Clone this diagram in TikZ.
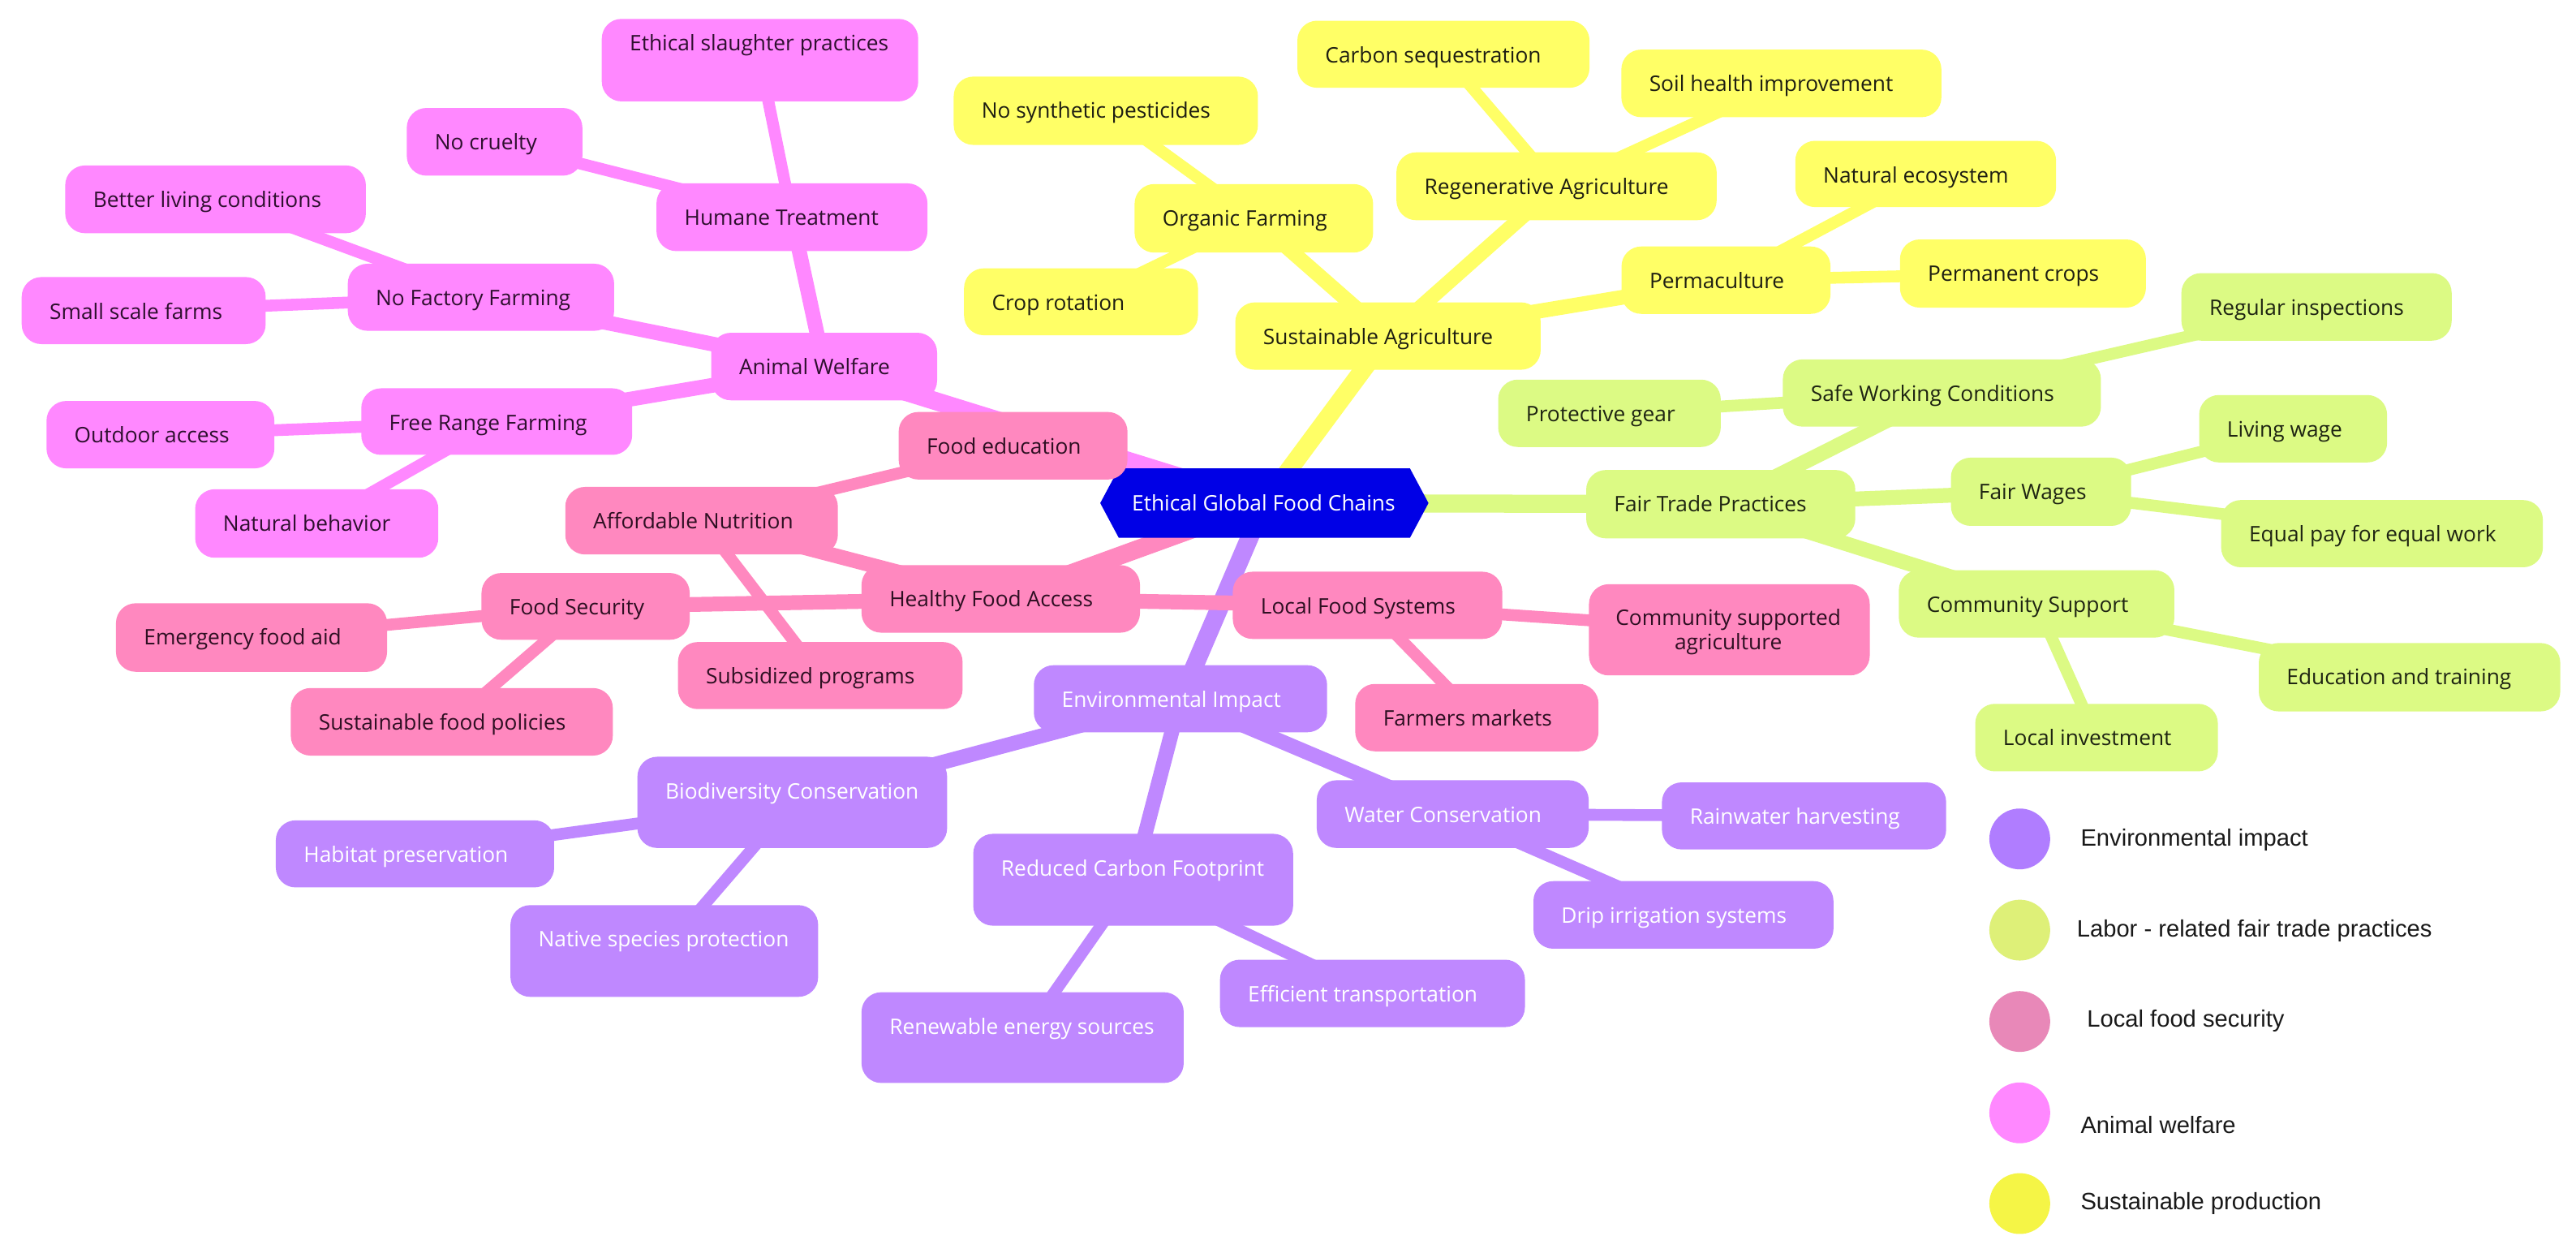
\documentclass[tikz,border=0pt]{standalone}
\usepackage{fontspec}
\setmainfont{Open Sans}
\newfontfamily\legendfamily{Liberation Sans}
\usetikzlibrary{calc}
\pgfdeclarelayer{paper}
\pgfdeclarelayer{bg}
\pgfsetlayers{paper,bg,main}
% section colours: c = fill / connector, t = text
\definecolor{magc}{HTML}{FF88FF}\definecolor{magt}{HTML}{2E0F2E}
\definecolor{pnkc}{HTML}{FF88BF}\definecolor{pnkt}{HTML}{2E0F22}
\definecolor{yelc}{HTML}{FFFF66}\definecolor{yelt}{HTML}{1E1E12}
\definecolor{limc}{HTML}{DCFA84}\definecolor{limt}{HTML}{1E2412}
\definecolor{purc}{HTML}{BF88FF}\definecolor{purt}{HTML}{FFFFFF}
\definecolor{rootc}{HTML}{0000E6}
\definecolor{lgpur}{HTML}{B07DFF}
\definecolor{lglim}{HTML}{DEF078}
\definecolor{lgpnk}{HTML}{E888B8}
\definecolor{lgmag}{HTML}{FF88FF}
\definecolor{lgyel}{HTML}{F5F546}
\newcommand{\mmfont}{\fontsize{13}{14.7}\selectfont}
\newcommand{\lgfont}{\legendfamily\fontsize{14.4}{17}\selectfont}
\tikzset{
  boxst/.style={rectangle, rounded corners=12pt, inner sep=0pt, outer sep=0pt, draw=none},
  txtst/.style={inner sep=0pt, outer sep=0pt, font=\mmfont},
  eone/.style={line width=11pt},
  etwo/.style={line width=9pt},
  ethree/.style={line width=7.2pt},
  lgdot/.style={circle, minimum size=37pt, inner sep=0pt, draw=none},
  lgtxt/.style={inner sep=0pt, font=\lgfont, text=black!90, anchor=base west}
}
% #1 baseline offset, #2 name, #3 section, #4 x1, #5 y1, #6 x2, #7 y2, #8 text
\newcommand{\mmnode}[8][25.5]{%
  \node[boxst, fill=#3c, minimum width=#6pt-#4pt, minimum height=#7pt-#5pt, anchor=north west] (#2) at (#4,#5) {};
  \node[txtst, text=#3t, anchor=base west] (#2-t) at ([xshift=17pt, yshift=-#1pt]#2.north west) {#8};
}
\newcommand{\mmedge}[4]{\draw[#1, #2c] (#3.center) -- (#4.center);}
\begin{document}
\begin{tikzpicture}[x=1pt, y=-1pt]
\useasboundingbox (0,0) rectangle (1568,760);
\begin{pgfonlayer}{paper}
\fill[white] (0,0) rectangle (1568,760);
\end{pgfonlayer}

% ---------- root ----------
\node[inner sep=0pt, outer sep=0pt, minimum width=199.8pt, minimum height=42.3pt, anchor=north west] (root) at (669.7,285) {};
\fill[rootc] (root.west) -- ([xshift=11.3pt]root.north west) -- ([xshift=-11.3pt]root.north east)
   -- (root.east) -- ([xshift=-11.3pt]root.south east) -- ([xshift=11.3pt]root.south west) -- cycle;
\node[txtst, text=white, anchor=base west] (root-t) at (689,310.7) {Ethical Global Food Chains};

% ---------- animal welfare ----------
\mmnode{aw}{mag}{432.9}{202.5}{570.4}{243.6}{Animal Welfare}
\mmnode{ht}{mag}{399.6}{111.6}{564.5}{152.8}{Humane Treatment}
\mmnode[19.4]{esp}{mag}{366.3}{11.5}{558.9}{61.7}{Ethical slaughter practices}
\mmnode{nc}{mag}{247.6}{65.7}{354.5}{106.9}{No cruelty}
\mmnode{nff}{mag}{211.7}{160.5}{373.8}{201.3}{No Factory Farming}
\mmnode{blc}{mag}{39.7}{100.7}{222.7}{141.9}{Better living conditions}
\mmnode{ssf}{mag}{13.2}{168.6}{161.7}{209.4}{Small scale farms}
\mmnode{frf}{mag}{219.9}{236.3}{384.8}{276.8}{Free Range Farming}
\mmnode{oa}{mag}{28.3}{244}{167}{285}{Outdoor access}
\mmnode{nb}{mag}{118.8}{297.7}{266.8}{339.4}{Natural behavior}

% ---------- healthy food access ----------
\mmnode{hfa}{pnk}{524.4}{343.9}{693.9}{385}{Healthy Food Access}
\mmnode{an}{pnk}{344.1}{296.3}{510}{337.4}{Affordable Nutrition}
\mmnode{fe}{pnk}{547}{250.7}{686.3}{291.8}{Food education}
\mmnode{sp}{pnk}{412.7}{390.7}{585.9}{431.5}{Subsidized programs}
\mmnode{fs}{pnk}{293.1}{348.7}{419.8}{389.3}{Food Security}
\mmnode{efa}{pnk}{70.6}{367.1}{235.6}{408.8}{Emergency food aid}
\mmnode{sfp}{pnk}{177}{418.7}{373}{459.8}{Sustainable food policies}
\mmnode{lfs}{pnk}{750.4}{347.9}{914.4}{388.8}{Local Food Systems}
\node[boxst, fill=pnkc, minimum width=170.9pt, minimum height=55.5pt, anchor=north west] (csa) at (967.2,355.5) {};
\node[txtst, text=pnkt, align=center, anchor=center] (csa-t) at (1052,384.5) {Community supported\\agriculture};
\mmnode{fm}{pnk}{824.9}{416.2}{973}{457.2}{Farmers markets}

% ---------- sustainable agriculture ----------
\mmnode{sa}{yel}{751.9}{184}{937.8}{225}{Sustainable Agriculture}
\mmnode{of}{yel}{690.6}{112}{835.8}{153.7}{Organic Farming}
\mmnode{nsp}{yel}{580.5}{46.6}{765.7}{88.2}{No synthetic pesticides}
\mmnode{cr}{yel}{586.8}{163.3}{729.2}{204}{Crop rotation}
\mmnode{ra}{yel}{850}{92.7}{1044.9}{134}{Regenerative Agriculture}
\mmnode{cs}{yel}{789.7}{12.6}{967.5}{53.4}{Carbon sequestration}
\mmnode{shi}{yel}{986.9}{30.2}{1181.7}{71.3}{Soil health improvement}
\mmnode{pc}{yel}{987}{150}{1114.2}{191}{Permaculture}
\mmnode{ne}{yel}{1092.8}{85.7}{1251.5}{126}{Natural ecosystem}
\mmnode{pcr}{yel}{1156.5}{145.7}{1306.2}{187.2}{Permanent crops}

% ---------- fair trade ----------
\mmnode{ftp}{lim}{965.5}{286}{1129.3}{327.6}{Fair Trade Practices}
\mmnode{swc}{lim}{1085.2}{218.7}{1278.8}{259.6}{Safe Working Conditions}
\mmnode{ri}{lim}{1327.8}{166.2}{1492.3}{207.3}{Regular inspections}
\mmnode{pg}{lim}{911.9}{231}{1047.4}{272}{Protective gear}
\mmnode{fw}{lim}{1187.5}{278.5}{1297.2}{320}{Fair Wages}
\mmnode{lw}{lim}{1338.6}{240.4}{1453}{281.4}{Living wage}
\mmnode{ep}{lim}{1352}{304.3}{1547.8}{345.2}{Equal pay for equal work}
\mmnode{cms}{lim}{1155.8}{347}{1323.5}{388}{Community Support}
\mmnode{et}{lim}{1374.9}{391.3}{1558.4}{432.9}{Education and training}
\mmnode{li}{lim}{1202.3}{428.3}{1350}{469.4}{Local investment}

% ---------- environmental impact ----------
\mmnode{ei}{pur}{629.3}{404.8}{807.8}{445.6}{Environmental Impact}
\mmnode{bc}{pur}{388}{460.5}{576.5}{516}{Biodiversity Conservation}
\mmnode{hp}{pur}{167.9}{499.2}{337.3}{540}{Habitat preservation}
\mmnode{nsr}{pur}{310.7}{550.8}{498}{606.6}{Native species protection}
\mmnode{rcf}{pur}{592.4}{507.4}{787.1}{563.3}{Reduced Carbon Footprint}
\mmnode{res}{pur}{524.4}{603.8}{720.5}{659}{Renewable energy sources}
\mmnode{eft}{pur}{742.6}{584}{928.2}{625}{Efficient transportation}
\mmnode{wc}{pur}{801.5}{474.8}{967}{516}{Water Conservation}
\mmnode{rh}{pur}{1011.6}{476.1}{1184.6}{516.9}{Rainwater harvesting}
\mmnode{dis}{pur}{933.4}{536.2}{1116}{577.3}{Drip irrigation systems}

% ---------- connectors ----------
\begin{pgfonlayer}{bg}
\mmedge{eone}{yel}{root}{sa}
\mmedge{eone}{lim}{root}{ftp}
\mmedge{eone}{pnk}{root}{hfa}
\mmedge{eone}{pur}{root}{ei}
\mmedge{eone}{mag}{root}{aw}
\mmedge{etwo}{yel}{sa}{of}
\mmedge{etwo}{yel}{sa}{ra}
\mmedge{etwo}{yel}{sa}{pc}
\mmedge{etwo}{lim}{ftp}{swc}
\mmedge{etwo}{lim}{ftp}{fw}
\mmedge{etwo}{lim}{ftp}{cms}
\mmedge{etwo}{pnk}{hfa}{an}
\mmedge{etwo}{pnk}{hfa}{fs}
\mmedge{etwo}{pnk}{hfa}{lfs}
\mmedge{etwo}{pur}{ei}{bc}
\mmedge{etwo}{pur}{ei}{rcf}
\mmedge{etwo}{pur}{ei}{wc}
\mmedge{etwo}{mag}{aw}{ht}
\mmedge{etwo}{mag}{aw}{nff}
\mmedge{etwo}{mag}{aw}{frf}
\mmedge{ethree}{yel}{of}{nsp}
\mmedge{ethree}{yel}{of}{cr}
\mmedge{ethree}{yel}{ra}{cs}
\mmedge{ethree}{yel}{ra}{shi}
\mmedge{ethree}{yel}{pc}{ne}
\mmedge{ethree}{yel}{pc}{pcr}
\mmedge{ethree}{lim}{swc}{ri}
\mmedge{ethree}{lim}{swc}{pg}
\mmedge{ethree}{lim}{fw}{lw}
\mmedge{ethree}{lim}{fw}{ep}
\mmedge{ethree}{lim}{cms}{et}
\mmedge{ethree}{lim}{cms}{li}
\mmedge{ethree}{pnk}{an}{fe}
\mmedge{ethree}{pnk}{an}{sp}
\mmedge{ethree}{pnk}{fs}{efa}
\mmedge{ethree}{pnk}{fs}{sfp}
\mmedge{ethree}{pnk}{lfs}{csa}
\mmedge{ethree}{pnk}{lfs}{fm}
\mmedge{ethree}{pur}{bc}{hp}
\mmedge{ethree}{pur}{bc}{nsr}
\mmedge{ethree}{pur}{rcf}{res}
\mmedge{ethree}{pur}{rcf}{eft}
\mmedge{ethree}{pur}{wc}{rh}
\mmedge{ethree}{pur}{wc}{dis}
\mmedge{ethree}{mag}{ht}{esp}
\mmedge{ethree}{mag}{ht}{nc}
\mmedge{ethree}{mag}{nff}{blc}
\mmedge{ethree}{mag}{nff}{ssf}
\mmedge{ethree}{mag}{frf}{oa}
\mmedge{ethree}{mag}{frf}{nb}
\end{pgfonlayer}

% ---------- legend ----------
\node[lgdot, fill=lgpur] (lg1) at (1229.4,510.5) {};
\node[lgdot, fill=lglim] (lg2) at (1229.4,566) {};
\node[lgdot, fill=lgpnk] (lg3) at (1229.4,621.6) {};
\node[lgdot, fill=lgmag] (lg4) at (1229.4,677.2) {};
\node[lgdot, fill=lgyel] (lg5) at (1229.4,732.4) {};
\node[lgtxt] (lg1-t) at (1266.3,514.9) {Environmental impact};
\node[lgtxt] (lg2-t) at (1264,570.1) {Labor - related fair trade practices};
\node[lgtxt] (lg3-t) at (1270.2,625.1) {Local food security};
\node[lgtxt] (lg4-t) at (1266.3,689.5) {Animal welfare};
\node[lgtxt] (lg5-t) at (1266.3,735.9) {Sustainable production};
\end{tikzpicture}
\end{document}
